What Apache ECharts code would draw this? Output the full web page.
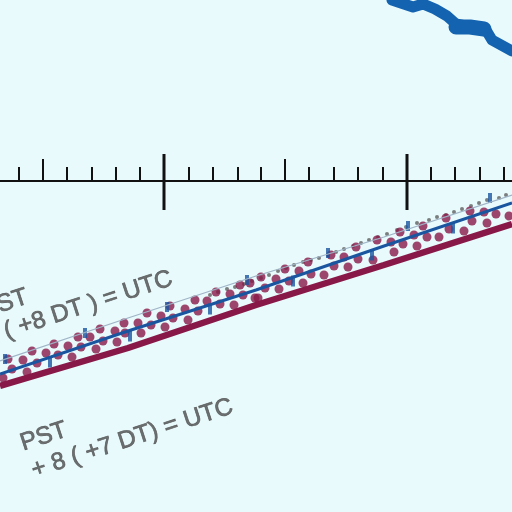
<!DOCTYPE html>
<html><head><meta charset="utf-8">
<script src="https://cdn.jsdelivr.net/npm/echarts@6/dist/echarts.min.js"></script>
<style>html,body{margin:0;padding:0;background:#e8fafc;}#c{width:512px;height:512px;}</style>
</head><body><div id="c"></div>
<script>
// Scale bar ticks (position along the strip, kind)
const scaleTicks = [
  [19,'minor'],[43,'half'],[67,'minor'],[92,'minor'],[116,'minor'],[140,'minor'],
  [164,'major'],[189,'minor'],[213,'minor'],[238,'minor'],[261,'minor'],[285,'half'],
  [309,'minor'],[334,'minor'],[358,'minor'],[383,'minor'],[407,'major'],[431,'minor'],
  [455,'minor'],[480,'minor'],[504,'minor']
];
const scaleLine = [[0,181],[512,181]];
// Diagonal route lines
const maroonLine = [[0,386],[128,348],[256,305],[384,265],[512,224]];
const blueLine = [[0,374],[128,331],[256,290],[384,246],[512,203]];
const greyLine = [[0,361],[128,318],[256,276],[384,237],[512,195]];
// Grey small dots along grey line
const greyDots = [
  [210,295],[218,292],[227,289],[235,287],[244,284],[252,281],[261,278],[269,275],[278,271],
  [286,268],[294,265],[303,262],[311,260],[319,258],[328,255],[336,252],[344,249],[353,246],
  [361,243],[369,240],[378,237],[387,234],[397,230],[406,227],[417,223],[429,220],[437,217],
  [446,215],[454,212],[462,209],[471,206],[479,203],[487,200],[499,198],[506,195]
];
// Maroon dots band
const maroonDots = [
  [3,378],[8,359],[12,369],[23,360],[27,372],[32,351],[37,363],[46,353],[54,344],[58,355],
  [68,346],[72,357],[78,337],[81,347],[90,337],[96,349],[100,329],[103,341],[115,331],[117,342],
  [124,323],[125,333],[138,323],[141,333],[147,313],[151,325],[161,316],[165,327],[170,306],[173,318],
  [185,309],[188,320],[195,300],[198,311],[207,301],[216,292],[220,304],[230,294],[234,305],[240,285],
  [243,295],[250,283],[255,298],[261,277],[258,298],[265,288],[276,279],[279,289],[285,269],[289,281],
  [299,271],[303,283],[308,262],[311,274],[324,275],[331,255],[334,266],[344,257],[348,267],[356,247],
  [358,259],[373,260],[377,240],[391,242],[394,252],[400,232],[403,244],[414,235],[417,246],[423,226],
  [427,237],[439,237],[446,218],[449,229],[464,231],[472,221],[470,211],[484,212],[487,223],[496,214],[509,216]
];
// Blue tick markers
const blueMarksUpper = [[5,359],[85,333],[167,307],[247,280],[328,253],[408,226],[490,198]];
const blueMarksLower = [[50,362],[130,336],[210,309],[293,281],[372,255],[453,228]];
// Thick blue curve at top right
const blueCurve = [[392,0],[404,4],[413,7],[423,4],[435,9],[447,16],[456,24],[470,27],[486,30],[492,40],[512,51]];
const blueBlob = [[456,27],[470,27],[484,29]];
// Text labels
const textLabels = [
  [-14,323,'PST'],
  [-31,357,'+ 8 ( +8 DT ) = UTC'],
  [25,456,'PST'],
  [36,483,'+ 8 ( +7 DT) = UTC']
];

const MAROON = '#881848', BLUE = '#1a55a0', TOPBLUE = '#1463b0';
const chart = echarts.init(document.getElementById('c'), null, {renderer:'canvas'});
const tickLen = {minor:[167,181], half:[159,181], major:[154,210]};
const tickW = {minor:2, half:2, major:3};
chart.setOption({
  backgroundColor:'#e8fafc',
  animation:false,
  grid:{left:0,right:0,top:0,bottom:0},
  xAxis:{type:'value',min:0,max:512,show:false},
  yAxis:{type:'value',min:0,max:512,inverse:true,show:false},
  series:[
    {type:'line',data:blueCurve,symbol:'none',lineStyle:{color:TOPBLUE,width:11,cap:'round',join:'round'},silent:true},
    {type:'line',data:blueBlob,symbol:'none',lineStyle:{color:TOPBLUE,width:15,cap:'round',join:'round'},silent:true},
    {type:'line',data:scaleLine,symbol:'none',lineStyle:{color:'#111',width:2}},
    {type:'custom',data:scaleTicks,renderItem:function(params,api){
      const x = api.value(0); const kind = scaleTicks[params.dataIndex][1];
      const p1 = api.coord([x,tickLen[kind][0]]), p2 = api.coord([x,tickLen[kind][1]]);
      return {type:'line',shape:{x1:p1[0],y1:p1[1],x2:p2[0],y2:p2[1]},style:{stroke:'#111',lineWidth:tickW[kind]}};
    }},
    {type:'line',data:greyLine,symbol:'none',lineStyle:{color:'#9fb4c6',width:1.3}},
    {type:'scatter',data:greyDots,symbolSize:4,itemStyle:{color:'#5f5f5f'}},
    {type:'scatter',data:maroonDots,symbolSize:9,itemStyle:{color:MAROON}},
    {type:'line',data:maroonLine,symbol:'none',lineStyle:{color:MAROON,width:6.5}},
    {type:'line',data:blueLine,symbol:'none',lineStyle:{color:BLUE,width:3}},
    {type:'scatter',data:blueMarksUpper,symbol:'rect',symbolSize:[4,10],itemStyle:{color:BLUE}},
    {type:'scatter',data:blueMarksLower,symbol:'rect',symbolSize:[4,11],itemStyle:{color:BLUE}},
    {type:'scatter',clip:false,data:textLabels.map(t=>({value:[t[0],t[1]],name:t[2]})),symbolSize:0,
      label:{show:true,position:'inside',formatter:'{b}',align:'left',verticalAlign:'bottom',rotate:18,
        fontFamily:'Liberation Sans, Arial, sans-serif',fontSize:24.5,color:'#4e4e4e',
        textBorderColor:'#4e4e4e',textBorderWidth:0.7}}
  ]
});
</script></body></html>
